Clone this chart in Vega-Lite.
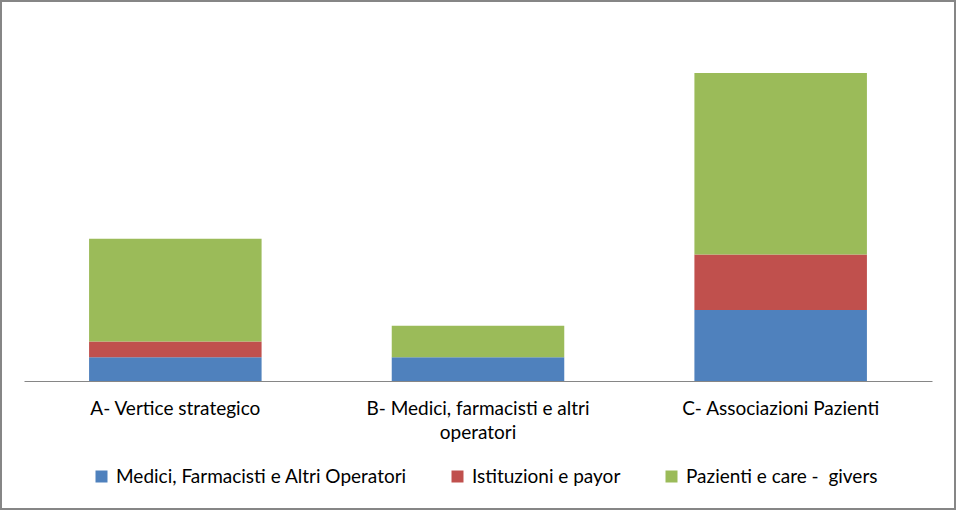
{
  "$schema": "https://vega.github.io/schema/vega-lite/v6.json",
  "width": 956,
  "height": 510,
  "padding": 0,
  "autosize": {"type": "none"},
  "background": "white",
  "config": {
    "view": {"stroke": "#868686", "strokeWidth": 4},
    "font": "Lato"
  },
  "data": {
    "values": [
      {"cat": "A- Vertice strategico", "serie": "Medici, Farmacisti e Altri Operatori", "k": 1, "v": 3},
      {"cat": "A- Vertice strategico", "serie": "Istituzioni e payor", "k": 2, "v": 2},
      {"cat": "A- Vertice strategico", "serie": "Pazienti e care - \u00a0givers", "k": 3, "v": 13},
      {"cat": "B- Medici, farmacisti e altri operatori", "serie": "Medici, Farmacisti e Altri Operatori", "k": 1, "v": 3},
      {"cat": "B- Medici, farmacisti e altri operatori", "serie": "Istituzioni e payor", "k": 2, "v": 0},
      {"cat": "B- Medici, farmacisti e altri operatori", "serie": "Pazienti e care - \u00a0givers", "k": 3, "v": 4},
      {"cat": "C- Associazioni Pazienti", "serie": "Medici, Farmacisti e Altri Operatori", "k": 1, "v": 9},
      {"cat": "C- Associazioni Pazienti", "serie": "Istituzioni e payor", "k": 2, "v": 7},
      {"cat": "C- Associazioni Pazienti", "serie": "Pazienti e care - \u00a0givers", "k": 3, "v": 23}
    ]
  },
  "mark": {"type": "bar"},
  "encoding": {
    "x": {
      "field": "cat",
      "type": "nominal",
      "sort": null,
      "scale": {"range": [24, 932], "paddingInner": 0.43, "paddingOuter": 0.215},
      "axis": {
        "title": null,
        "orient": "bottom",
        "offset": -129,
        "domainColor": "#868686",
        "domainWidth": 1,
        "ticks": false,
        "labelAngle": 0,
        "labelFont": "Lato",
        "labelFontSize": 19,
        "labelColor": "#000000",
        "labelPadding": 18,
        "labelBaseline": "top",
        "labelLineHeight": 24,
        "labelLimit": 400,
        "labelExpr": "datum.value === 'B- Medici, farmacisti e altri operatori' ? ['B- Medici, farmacisti e altri', 'operatori'] : datum.label"
      }
    },
    "y": {
      "field": "v",
      "type": "quantitative",
      "stack": "zero",
      "scale": {"domain": [-16.33, 48.23], "zero": false, "nice": false},
      "axis": null
    },
    "color": {
      "field": "serie",
      "type": "nominal",
      "scale": {
        "domain": ["Medici, Farmacisti e Altri Operatori", "Istituzioni e payor", "Pazienti e care - \u00a0givers"],
        "range": ["#4F81BD", "#C0504D", "#9BBB59"]
      },
      "legend": {
        "title": null,
        "orient": "none",
        "legendX": 92,
        "legendY": 467,
        "direction": "horizontal",
        "gridAlign": "none",
        "symbolType": "square",
        "symbolSize": 144,
        "symbolStrokeWidth": 0,
        "symbolOpacity": 1,
        "labelFont": "Lato",
        "labelFontSize": 19,
        "labelColor": "#000000",
        "labelOffset": 5,
        "labelLimit": 500,
        "columnPadding": 41
      }
    },
    "order": {"field": "k", "type": "quantitative", "sort": "ascending"}
  }
}
